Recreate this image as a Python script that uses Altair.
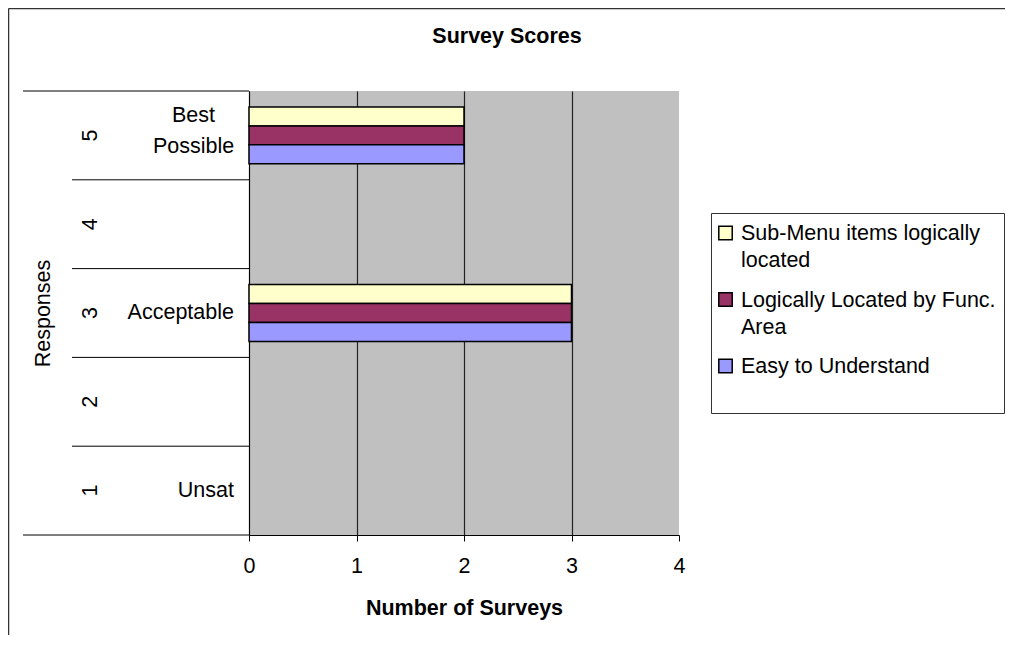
import altair as alt
import pandas as pd

# ---------------- data ----------------
responses = ['1', '2', '3', '4', '5']
response_labels = ['Unsat', '', 'Acceptable', '', 'Best\nPossible']
series = ['Sub-Menu items logically located',
          'Logically Located by Func. Area',
          'Easy to Understand']
legend_labels = ['Sub-Menu items logically\nlocated',
                 'Logically Located by Func.\nArea',
                 'Easy to Understand']
sub_menu_counts = [0, 0, 3, 0, 2]
func_area_counts = [0, 0, 3, 0, 2]
easy_counts = [0, 0, 3, 0, 2]
colors = ['#FFFFCC', '#993366', '#9999FF']
x_ticks = [0, 1, 2, 3, 4]
chart_title = 'Survey Scores'
x_title = 'Number of Surveys'
y_title = 'Responses'

FONT = 'Liberation Sans'
FS = 21.5
W, H = 430, 444
PAD = {'left': 241, 'top': 83, 'right': 326, 'bottom': 100}

rows = []
for s, counts in zip(series, [sub_menu_counts, func_area_counts, easy_counts]):
    for r, c in zip(responses, counts):
        rows.append({'response': r, 'series': s, 'count': c})
bars_df = pd.DataFrame(rows)
cat_df = pd.DataFrame({'response': responses, 'label': response_labels})
n = len(responses)
bounds_df = pd.DataFrame({'b': [i + 0.5 for i in range(n + 1)],
                          'outer': [i in (0, n) for i in range(n + 1)]})
legend_df = pd.DataFrame({'series': series, 'label': legend_labels})
one = pd.DataFrame({'k': [0]})

yscale = alt.Scale(domain=responses[::-1], paddingInner=0.36, paddingOuter=0.18)
color_scale = alt.Scale(domain=series, range=colors)

bars = alt.Chart(bars_df).transform_filter('datum.count > 0').mark_bar(
    stroke='black', strokeWidth=1.5
).encode(
    x=alt.X('count:Q', scale=alt.Scale(domain=[0, 4], nice=False),
            axis=alt.Axis(values=x_ticks, title=x_title, grid=True,
                          gridColor='#222222', gridWidth=1.2,
                          gridOpacity={"condition": {"test": "datum.value >= 4", "value": 0}, "value": 1},
                          domainColor='black', tickColor='black', tickSize=6,
                          labelPadding=14, labelFont=FONT, labelFontSize=FS,
                          labelColor='black', labelFlush=False, labelOverlap=False,
                          titleFont=FONT, titleFontSize=FS, titleFontWeight='bold',
                          titleColor='black', titleY=79, titleBaseline='alphabetic')),
    y=alt.Y('response:N', scale=yscale,
            axis=alt.Axis(title=y_title, labels=False, ticks=False, grid=False,
                          domain=True, domainColor='black',
                          titleAngle=270, titleX=-200, titleY=222,
                          titleBaseline='alphabetic', titleAlign='center',
                          titleFont=FONT, titleFontSize=FS, titleFontWeight='normal',
                          titleColor='black')),
    yOffset=alt.YOffset('series:N', scale=alt.Scale(domain=series)),
    color=alt.Color('series:N', scale=color_scale, legend=None),
)

sep_y = alt.Y('b:Q', scale=alt.Scale(domain=[0.5, n + 0.5], nice=False, zero=False), axis=None)
seps_outer = alt.Chart(bounds_df).transform_filter('datum.outer').mark_rule(
    color='black', strokeWidth=1
).encode(y=sep_y, x=alt.value(-226), x2=alt.value(0))
seps_inner = alt.Chart(bounds_df).transform_filter('!datum.outer').mark_rule(
    color='black', strokeWidth=1
).encode(y=sep_y, x=alt.value(-177), x2=alt.value(0))

nums = alt.Chart(cat_df).mark_text(
    angle=270, font=FONT, fontSize=FS, color='black', align='center', baseline='middle'
).encode(y=alt.Y('response:N', scale=yscale, axis=None), x=alt.value(-158),
         text='response:N')

labels_single = alt.Chart(cat_df).transform_filter(
    "datum.label != '' && indexof(datum.label, '\\n') < 0"
).mark_text(font=FONT, fontSize=FS, color='black', align='right', baseline='middle').encode(
    y=alt.Y('response:N', scale=yscale, axis=None), x=alt.value(-15), text='label:N')

labels_multi = alt.Chart(cat_df).transform_filter(
    "indexof(datum.label, '\\n') >= 0"
).mark_text(font=FONT, fontSize=FS, color='black', align='center', baseline='middle',
            lineBreak='\n', lineHeight=31, dy=-19).encode(
    y=alt.Y('response:N', scale=yscale, axis=None), x=alt.value(-55.5), text='label:N')

title = alt.Chart(one).mark_text(
    font=FONT, fontSize=FS, fontWeight='bold', color='black', align='center',
    baseline='alphabetic', text=chart_title
).encode(x=alt.value(258), y=alt.value(-48))

legend_box = alt.Chart(one).mark_rect(fill='white', stroke='#333333', strokeWidth=1).encode(
    x=alt.value(462.5), x2=alt.value(755.5), y=alt.value(122.5), y2=alt.value(322.5))

leg_y = alt.Y('series:N', scale=alt.Scale(type='point', domain=series, range=[142, 275], padding=0),
              axis=None)
legend_sym = alt.Chart(legend_df).mark_point(
    shape='square', filled=True, size=180, stroke='black', strokeWidth=1.5, opacity=1
).encode(y=leg_y, x=alt.value(476.5),
         color=alt.Color('series:N', scale=color_scale, legend=None))
legend_txt = alt.Chart(legend_df).mark_text(
    font=FONT, fontSize=FS, color='black', align='left', baseline='alphabetic',
    dy=7, lineBreak='\n', lineHeight=27
).encode(y=leg_y, x=alt.value(492), text='label:N')

border_left = alt.Chart(one).mark_rule(color='#333333', strokeWidth=1.5).encode(
    x=alt.value(-240.5), y=alt.value(-82.5), y2=alt.value(H + PAD['bottom']))
border_top = alt.Chart(one).mark_rule(color='#333333', strokeWidth=1.5).encode(
    x=alt.value(-240.5), x2=alt.value(W + PAD['right']), y=alt.value(-82.5))

chart = alt.layer(
    bars, seps_outer, seps_inner, nums, labels_single, labels_multi, title,
    legend_box, legend_sym, legend_txt, border_left, border_top
).resolve_scale(y='independent').properties(
    width=W, height=H, padding=PAD, autosize=alt.AutoSizeParams(type='none'),
    background='white'
).configure_view(fill='#C0C0C0', stroke=None)

chart.save("out.html", embed_options={"renderer": "svg", "actions": False})
